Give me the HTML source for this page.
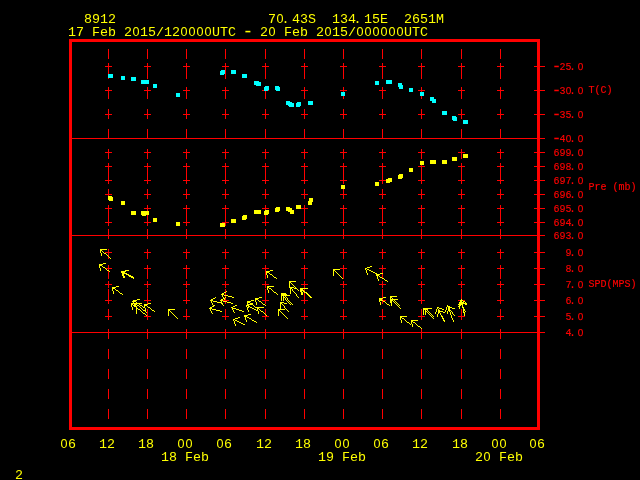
<!DOCTYPE html>
<html><head><meta charset="utf-8"><title>Meteogram 8912</title>
<style>
html,body{margin:0;padding:0;background:#000;overflow:hidden}
svg{display:block}
text{font-family:"Liberation Mono",monospace;white-space:pre;text-anchor:middle}
.by{font-size:13.333px;fill:#ffff00}
.sr{font-size:10px;fill:#ff0000;stroke:#ff0000;stroke-width:0.15px}
.z{font-family:"Liberation Sans",sans-serif}
.by .z{font-size:12.6px}
.by .d{font-size:18px}
.sr .d{font-size:16px}
.sr .z{font-size:10.0px;text-rendering:geometricPrecision}
</style></head><body>
<svg width="640" height="480" viewBox="0 0 640 480" shape-rendering="crispEdges">
<rect width="640" height="480" fill="#000"/>
<g fill="#ff0000">
<rect x="69" y="39" width="471" height="3"/>
<rect x="69" y="427" width="471" height="3"/>
<rect x="69" y="39" width="3" height="391"/>
<rect x="537" y="39" width="3" height="391"/>
<rect x="72" y="138" width="465" height="1"/>
<rect x="72" y="235" width="465" height="1"/>
<rect x="72" y="332" width="465" height="1"/>
<rect x="108" y="49" width="1" height="10"/>
<rect x="108" y="69" width="1" height="10"/>
<rect x="108" y="89" width="1" height="10"/>
<rect x="108" y="109" width="1" height="10"/>
<rect x="108" y="129" width="1" height="10"/>
<rect x="108" y="149" width="1" height="10"/>
<rect x="108" y="169" width="1" height="10"/>
<rect x="108" y="189" width="1" height="10"/>
<rect x="108" y="209" width="1" height="10"/>
<rect x="108" y="229" width="1" height="10"/>
<rect x="108" y="249" width="1" height="10"/>
<rect x="108" y="269" width="1" height="10"/>
<rect x="108" y="289" width="1" height="10"/>
<rect x="108" y="309" width="1" height="10"/>
<rect x="108" y="329" width="1" height="10"/>
<rect x="108" y="349" width="1" height="10"/>
<rect x="108" y="369" width="1" height="10"/>
<rect x="108" y="389" width="1" height="10"/>
<rect x="108" y="409" width="1" height="10"/>
<rect x="105" y="66" width="7" height="1"/>
<rect x="108" y="63" width="1" height="7"/>
<rect x="105" y="90" width="7" height="1"/>
<rect x="108" y="87" width="1" height="7"/>
<rect x="105" y="114" width="7" height="1"/>
<rect x="108" y="111" width="1" height="7"/>
<rect x="105" y="152" width="7" height="1"/>
<rect x="108" y="149" width="1" height="7"/>
<rect x="105" y="166" width="7" height="1"/>
<rect x="108" y="163" width="1" height="7"/>
<rect x="105" y="180" width="7" height="1"/>
<rect x="108" y="177" width="1" height="7"/>
<rect x="105" y="194" width="7" height="1"/>
<rect x="108" y="191" width="1" height="7"/>
<rect x="105" y="208" width="7" height="1"/>
<rect x="108" y="205" width="1" height="7"/>
<rect x="105" y="222" width="7" height="1"/>
<rect x="108" y="219" width="1" height="7"/>
<rect x="105" y="252" width="7" height="1"/>
<rect x="108" y="249" width="1" height="7"/>
<rect x="105" y="268" width="7" height="1"/>
<rect x="108" y="265" width="1" height="7"/>
<rect x="105" y="284" width="7" height="1"/>
<rect x="108" y="281" width="1" height="7"/>
<rect x="105" y="300" width="7" height="1"/>
<rect x="108" y="297" width="1" height="7"/>
<rect x="105" y="316" width="7" height="1"/>
<rect x="108" y="313" width="1" height="7"/>
<rect x="147" y="49" width="1" height="10"/>
<rect x="147" y="69" width="1" height="10"/>
<rect x="147" y="89" width="1" height="10"/>
<rect x="147" y="109" width="1" height="10"/>
<rect x="147" y="129" width="1" height="10"/>
<rect x="147" y="149" width="1" height="10"/>
<rect x="147" y="169" width="1" height="10"/>
<rect x="147" y="189" width="1" height="10"/>
<rect x="147" y="209" width="1" height="10"/>
<rect x="147" y="229" width="1" height="10"/>
<rect x="147" y="249" width="1" height="10"/>
<rect x="147" y="269" width="1" height="10"/>
<rect x="147" y="289" width="1" height="10"/>
<rect x="147" y="309" width="1" height="10"/>
<rect x="147" y="329" width="1" height="10"/>
<rect x="147" y="349" width="1" height="10"/>
<rect x="147" y="369" width="1" height="10"/>
<rect x="147" y="389" width="1" height="10"/>
<rect x="147" y="409" width="1" height="10"/>
<rect x="144" y="66" width="7" height="1"/>
<rect x="147" y="63" width="1" height="7"/>
<rect x="144" y="90" width="7" height="1"/>
<rect x="147" y="87" width="1" height="7"/>
<rect x="144" y="114" width="7" height="1"/>
<rect x="147" y="111" width="1" height="7"/>
<rect x="144" y="152" width="7" height="1"/>
<rect x="147" y="149" width="1" height="7"/>
<rect x="144" y="166" width="7" height="1"/>
<rect x="147" y="163" width="1" height="7"/>
<rect x="144" y="180" width="7" height="1"/>
<rect x="147" y="177" width="1" height="7"/>
<rect x="144" y="194" width="7" height="1"/>
<rect x="147" y="191" width="1" height="7"/>
<rect x="144" y="208" width="7" height="1"/>
<rect x="147" y="205" width="1" height="7"/>
<rect x="144" y="222" width="7" height="1"/>
<rect x="147" y="219" width="1" height="7"/>
<rect x="144" y="252" width="7" height="1"/>
<rect x="147" y="249" width="1" height="7"/>
<rect x="144" y="268" width="7" height="1"/>
<rect x="147" y="265" width="1" height="7"/>
<rect x="144" y="284" width="7" height="1"/>
<rect x="147" y="281" width="1" height="7"/>
<rect x="144" y="300" width="7" height="1"/>
<rect x="147" y="297" width="1" height="7"/>
<rect x="144" y="316" width="7" height="1"/>
<rect x="147" y="313" width="1" height="7"/>
<rect x="186" y="49" width="1" height="10"/>
<rect x="186" y="69" width="1" height="10"/>
<rect x="186" y="89" width="1" height="10"/>
<rect x="186" y="109" width="1" height="10"/>
<rect x="186" y="129" width="1" height="10"/>
<rect x="186" y="149" width="1" height="10"/>
<rect x="186" y="169" width="1" height="10"/>
<rect x="186" y="189" width="1" height="10"/>
<rect x="186" y="209" width="1" height="10"/>
<rect x="186" y="229" width="1" height="10"/>
<rect x="186" y="249" width="1" height="10"/>
<rect x="186" y="269" width="1" height="10"/>
<rect x="186" y="289" width="1" height="10"/>
<rect x="186" y="309" width="1" height="10"/>
<rect x="186" y="329" width="1" height="10"/>
<rect x="186" y="349" width="1" height="10"/>
<rect x="186" y="369" width="1" height="10"/>
<rect x="186" y="389" width="1" height="10"/>
<rect x="186" y="409" width="1" height="10"/>
<rect x="183" y="66" width="7" height="1"/>
<rect x="186" y="63" width="1" height="7"/>
<rect x="183" y="90" width="7" height="1"/>
<rect x="186" y="87" width="1" height="7"/>
<rect x="183" y="114" width="7" height="1"/>
<rect x="186" y="111" width="1" height="7"/>
<rect x="183" y="152" width="7" height="1"/>
<rect x="186" y="149" width="1" height="7"/>
<rect x="183" y="166" width="7" height="1"/>
<rect x="186" y="163" width="1" height="7"/>
<rect x="183" y="180" width="7" height="1"/>
<rect x="186" y="177" width="1" height="7"/>
<rect x="183" y="194" width="7" height="1"/>
<rect x="186" y="191" width="1" height="7"/>
<rect x="183" y="208" width="7" height="1"/>
<rect x="186" y="205" width="1" height="7"/>
<rect x="183" y="222" width="7" height="1"/>
<rect x="186" y="219" width="1" height="7"/>
<rect x="183" y="252" width="7" height="1"/>
<rect x="186" y="249" width="1" height="7"/>
<rect x="183" y="268" width="7" height="1"/>
<rect x="186" y="265" width="1" height="7"/>
<rect x="183" y="284" width="7" height="1"/>
<rect x="186" y="281" width="1" height="7"/>
<rect x="183" y="300" width="7" height="1"/>
<rect x="186" y="297" width="1" height="7"/>
<rect x="183" y="316" width="7" height="1"/>
<rect x="186" y="313" width="1" height="7"/>
<rect x="225" y="49" width="1" height="10"/>
<rect x="225" y="69" width="1" height="10"/>
<rect x="225" y="89" width="1" height="10"/>
<rect x="225" y="109" width="1" height="10"/>
<rect x="225" y="129" width="1" height="10"/>
<rect x="225" y="149" width="1" height="10"/>
<rect x="225" y="169" width="1" height="10"/>
<rect x="225" y="189" width="1" height="10"/>
<rect x="225" y="209" width="1" height="10"/>
<rect x="225" y="229" width="1" height="10"/>
<rect x="225" y="249" width="1" height="10"/>
<rect x="225" y="269" width="1" height="10"/>
<rect x="225" y="289" width="1" height="10"/>
<rect x="225" y="309" width="1" height="10"/>
<rect x="225" y="329" width="1" height="10"/>
<rect x="225" y="349" width="1" height="10"/>
<rect x="225" y="369" width="1" height="10"/>
<rect x="225" y="389" width="1" height="10"/>
<rect x="225" y="409" width="1" height="10"/>
<rect x="222" y="66" width="7" height="1"/>
<rect x="225" y="63" width="1" height="7"/>
<rect x="222" y="90" width="7" height="1"/>
<rect x="225" y="87" width="1" height="7"/>
<rect x="222" y="114" width="7" height="1"/>
<rect x="225" y="111" width="1" height="7"/>
<rect x="222" y="152" width="7" height="1"/>
<rect x="225" y="149" width="1" height="7"/>
<rect x="222" y="166" width="7" height="1"/>
<rect x="225" y="163" width="1" height="7"/>
<rect x="222" y="180" width="7" height="1"/>
<rect x="225" y="177" width="1" height="7"/>
<rect x="222" y="194" width="7" height="1"/>
<rect x="225" y="191" width="1" height="7"/>
<rect x="222" y="208" width="7" height="1"/>
<rect x="225" y="205" width="1" height="7"/>
<rect x="222" y="222" width="7" height="1"/>
<rect x="225" y="219" width="1" height="7"/>
<rect x="222" y="252" width="7" height="1"/>
<rect x="225" y="249" width="1" height="7"/>
<rect x="222" y="268" width="7" height="1"/>
<rect x="225" y="265" width="1" height="7"/>
<rect x="222" y="284" width="7" height="1"/>
<rect x="225" y="281" width="1" height="7"/>
<rect x="222" y="300" width="7" height="1"/>
<rect x="225" y="297" width="1" height="7"/>
<rect x="222" y="316" width="7" height="1"/>
<rect x="225" y="313" width="1" height="7"/>
<rect x="265" y="49" width="1" height="10"/>
<rect x="265" y="69" width="1" height="10"/>
<rect x="265" y="89" width="1" height="10"/>
<rect x="265" y="109" width="1" height="10"/>
<rect x="265" y="129" width="1" height="10"/>
<rect x="265" y="149" width="1" height="10"/>
<rect x="265" y="169" width="1" height="10"/>
<rect x="265" y="189" width="1" height="10"/>
<rect x="265" y="209" width="1" height="10"/>
<rect x="265" y="229" width="1" height="10"/>
<rect x="265" y="249" width="1" height="10"/>
<rect x="265" y="269" width="1" height="10"/>
<rect x="265" y="289" width="1" height="10"/>
<rect x="265" y="309" width="1" height="10"/>
<rect x="265" y="329" width="1" height="10"/>
<rect x="265" y="349" width="1" height="10"/>
<rect x="265" y="369" width="1" height="10"/>
<rect x="265" y="389" width="1" height="10"/>
<rect x="265" y="409" width="1" height="10"/>
<rect x="262" y="66" width="7" height="1"/>
<rect x="265" y="63" width="1" height="7"/>
<rect x="262" y="90" width="7" height="1"/>
<rect x="265" y="87" width="1" height="7"/>
<rect x="262" y="114" width="7" height="1"/>
<rect x="265" y="111" width="1" height="7"/>
<rect x="262" y="152" width="7" height="1"/>
<rect x="265" y="149" width="1" height="7"/>
<rect x="262" y="166" width="7" height="1"/>
<rect x="265" y="163" width="1" height="7"/>
<rect x="262" y="180" width="7" height="1"/>
<rect x="265" y="177" width="1" height="7"/>
<rect x="262" y="194" width="7" height="1"/>
<rect x="265" y="191" width="1" height="7"/>
<rect x="262" y="208" width="7" height="1"/>
<rect x="265" y="205" width="1" height="7"/>
<rect x="262" y="222" width="7" height="1"/>
<rect x="265" y="219" width="1" height="7"/>
<rect x="262" y="252" width="7" height="1"/>
<rect x="265" y="249" width="1" height="7"/>
<rect x="262" y="268" width="7" height="1"/>
<rect x="265" y="265" width="1" height="7"/>
<rect x="262" y="284" width="7" height="1"/>
<rect x="265" y="281" width="1" height="7"/>
<rect x="262" y="300" width="7" height="1"/>
<rect x="265" y="297" width="1" height="7"/>
<rect x="262" y="316" width="7" height="1"/>
<rect x="265" y="313" width="1" height="7"/>
<rect x="304" y="49" width="1" height="10"/>
<rect x="304" y="69" width="1" height="10"/>
<rect x="304" y="89" width="1" height="10"/>
<rect x="304" y="109" width="1" height="10"/>
<rect x="304" y="129" width="1" height="10"/>
<rect x="304" y="149" width="1" height="10"/>
<rect x="304" y="169" width="1" height="10"/>
<rect x="304" y="189" width="1" height="10"/>
<rect x="304" y="209" width="1" height="10"/>
<rect x="304" y="229" width="1" height="10"/>
<rect x="304" y="249" width="1" height="10"/>
<rect x="304" y="269" width="1" height="10"/>
<rect x="304" y="289" width="1" height="10"/>
<rect x="304" y="309" width="1" height="10"/>
<rect x="304" y="329" width="1" height="10"/>
<rect x="304" y="349" width="1" height="10"/>
<rect x="304" y="369" width="1" height="10"/>
<rect x="304" y="389" width="1" height="10"/>
<rect x="304" y="409" width="1" height="10"/>
<rect x="301" y="66" width="7" height="1"/>
<rect x="304" y="63" width="1" height="7"/>
<rect x="301" y="90" width="7" height="1"/>
<rect x="304" y="87" width="1" height="7"/>
<rect x="301" y="114" width="7" height="1"/>
<rect x="304" y="111" width="1" height="7"/>
<rect x="301" y="152" width="7" height="1"/>
<rect x="304" y="149" width="1" height="7"/>
<rect x="301" y="166" width="7" height="1"/>
<rect x="304" y="163" width="1" height="7"/>
<rect x="301" y="180" width="7" height="1"/>
<rect x="304" y="177" width="1" height="7"/>
<rect x="301" y="194" width="7" height="1"/>
<rect x="304" y="191" width="1" height="7"/>
<rect x="301" y="208" width="7" height="1"/>
<rect x="304" y="205" width="1" height="7"/>
<rect x="301" y="222" width="7" height="1"/>
<rect x="304" y="219" width="1" height="7"/>
<rect x="301" y="252" width="7" height="1"/>
<rect x="304" y="249" width="1" height="7"/>
<rect x="301" y="268" width="7" height="1"/>
<rect x="304" y="265" width="1" height="7"/>
<rect x="301" y="284" width="7" height="1"/>
<rect x="304" y="281" width="1" height="7"/>
<rect x="301" y="300" width="7" height="1"/>
<rect x="304" y="297" width="1" height="7"/>
<rect x="301" y="316" width="7" height="1"/>
<rect x="304" y="313" width="1" height="7"/>
<rect x="343" y="49" width="1" height="10"/>
<rect x="343" y="69" width="1" height="10"/>
<rect x="343" y="89" width="1" height="10"/>
<rect x="343" y="109" width="1" height="10"/>
<rect x="343" y="129" width="1" height="10"/>
<rect x="343" y="149" width="1" height="10"/>
<rect x="343" y="169" width="1" height="10"/>
<rect x="343" y="189" width="1" height="10"/>
<rect x="343" y="209" width="1" height="10"/>
<rect x="343" y="229" width="1" height="10"/>
<rect x="343" y="249" width="1" height="10"/>
<rect x="343" y="269" width="1" height="10"/>
<rect x="343" y="289" width="1" height="10"/>
<rect x="343" y="309" width="1" height="10"/>
<rect x="343" y="329" width="1" height="10"/>
<rect x="343" y="349" width="1" height="10"/>
<rect x="343" y="369" width="1" height="10"/>
<rect x="343" y="389" width="1" height="10"/>
<rect x="343" y="409" width="1" height="10"/>
<rect x="340" y="66" width="7" height="1"/>
<rect x="343" y="63" width="1" height="7"/>
<rect x="340" y="90" width="7" height="1"/>
<rect x="343" y="87" width="1" height="7"/>
<rect x="340" y="114" width="7" height="1"/>
<rect x="343" y="111" width="1" height="7"/>
<rect x="340" y="152" width="7" height="1"/>
<rect x="343" y="149" width="1" height="7"/>
<rect x="340" y="166" width="7" height="1"/>
<rect x="343" y="163" width="1" height="7"/>
<rect x="340" y="180" width="7" height="1"/>
<rect x="343" y="177" width="1" height="7"/>
<rect x="340" y="194" width="7" height="1"/>
<rect x="343" y="191" width="1" height="7"/>
<rect x="340" y="208" width="7" height="1"/>
<rect x="343" y="205" width="1" height="7"/>
<rect x="340" y="222" width="7" height="1"/>
<rect x="343" y="219" width="1" height="7"/>
<rect x="340" y="252" width="7" height="1"/>
<rect x="343" y="249" width="1" height="7"/>
<rect x="340" y="268" width="7" height="1"/>
<rect x="343" y="265" width="1" height="7"/>
<rect x="340" y="284" width="7" height="1"/>
<rect x="343" y="281" width="1" height="7"/>
<rect x="340" y="300" width="7" height="1"/>
<rect x="343" y="297" width="1" height="7"/>
<rect x="340" y="316" width="7" height="1"/>
<rect x="343" y="313" width="1" height="7"/>
<rect x="382" y="49" width="1" height="10"/>
<rect x="382" y="69" width="1" height="10"/>
<rect x="382" y="89" width="1" height="10"/>
<rect x="382" y="109" width="1" height="10"/>
<rect x="382" y="129" width="1" height="10"/>
<rect x="382" y="149" width="1" height="10"/>
<rect x="382" y="169" width="1" height="10"/>
<rect x="382" y="189" width="1" height="10"/>
<rect x="382" y="209" width="1" height="10"/>
<rect x="382" y="229" width="1" height="10"/>
<rect x="382" y="249" width="1" height="10"/>
<rect x="382" y="269" width="1" height="10"/>
<rect x="382" y="289" width="1" height="10"/>
<rect x="382" y="309" width="1" height="10"/>
<rect x="382" y="329" width="1" height="10"/>
<rect x="382" y="349" width="1" height="10"/>
<rect x="382" y="369" width="1" height="10"/>
<rect x="382" y="389" width="1" height="10"/>
<rect x="382" y="409" width="1" height="10"/>
<rect x="379" y="66" width="7" height="1"/>
<rect x="382" y="63" width="1" height="7"/>
<rect x="379" y="90" width="7" height="1"/>
<rect x="382" y="87" width="1" height="7"/>
<rect x="379" y="114" width="7" height="1"/>
<rect x="382" y="111" width="1" height="7"/>
<rect x="379" y="152" width="7" height="1"/>
<rect x="382" y="149" width="1" height="7"/>
<rect x="379" y="166" width="7" height="1"/>
<rect x="382" y="163" width="1" height="7"/>
<rect x="379" y="180" width="7" height="1"/>
<rect x="382" y="177" width="1" height="7"/>
<rect x="379" y="194" width="7" height="1"/>
<rect x="382" y="191" width="1" height="7"/>
<rect x="379" y="208" width="7" height="1"/>
<rect x="382" y="205" width="1" height="7"/>
<rect x="379" y="222" width="7" height="1"/>
<rect x="382" y="219" width="1" height="7"/>
<rect x="379" y="252" width="7" height="1"/>
<rect x="382" y="249" width="1" height="7"/>
<rect x="379" y="268" width="7" height="1"/>
<rect x="382" y="265" width="1" height="7"/>
<rect x="379" y="284" width="7" height="1"/>
<rect x="382" y="281" width="1" height="7"/>
<rect x="379" y="300" width="7" height="1"/>
<rect x="382" y="297" width="1" height="7"/>
<rect x="379" y="316" width="7" height="1"/>
<rect x="382" y="313" width="1" height="7"/>
<rect x="421" y="49" width="1" height="10"/>
<rect x="421" y="69" width="1" height="10"/>
<rect x="421" y="89" width="1" height="10"/>
<rect x="421" y="109" width="1" height="10"/>
<rect x="421" y="129" width="1" height="10"/>
<rect x="421" y="149" width="1" height="10"/>
<rect x="421" y="169" width="1" height="10"/>
<rect x="421" y="189" width="1" height="10"/>
<rect x="421" y="209" width="1" height="10"/>
<rect x="421" y="229" width="1" height="10"/>
<rect x="421" y="249" width="1" height="10"/>
<rect x="421" y="269" width="1" height="10"/>
<rect x="421" y="289" width="1" height="10"/>
<rect x="421" y="309" width="1" height="10"/>
<rect x="421" y="329" width="1" height="10"/>
<rect x="421" y="349" width="1" height="10"/>
<rect x="421" y="369" width="1" height="10"/>
<rect x="421" y="389" width="1" height="10"/>
<rect x="421" y="409" width="1" height="10"/>
<rect x="418" y="66" width="7" height="1"/>
<rect x="421" y="63" width="1" height="7"/>
<rect x="418" y="90" width="7" height="1"/>
<rect x="421" y="87" width="1" height="7"/>
<rect x="418" y="114" width="7" height="1"/>
<rect x="421" y="111" width="1" height="7"/>
<rect x="418" y="152" width="7" height="1"/>
<rect x="421" y="149" width="1" height="7"/>
<rect x="418" y="166" width="7" height="1"/>
<rect x="421" y="163" width="1" height="7"/>
<rect x="418" y="180" width="7" height="1"/>
<rect x="421" y="177" width="1" height="7"/>
<rect x="418" y="194" width="7" height="1"/>
<rect x="421" y="191" width="1" height="7"/>
<rect x="418" y="208" width="7" height="1"/>
<rect x="421" y="205" width="1" height="7"/>
<rect x="418" y="222" width="7" height="1"/>
<rect x="421" y="219" width="1" height="7"/>
<rect x="418" y="252" width="7" height="1"/>
<rect x="421" y="249" width="1" height="7"/>
<rect x="418" y="268" width="7" height="1"/>
<rect x="421" y="265" width="1" height="7"/>
<rect x="418" y="284" width="7" height="1"/>
<rect x="421" y="281" width="1" height="7"/>
<rect x="418" y="300" width="7" height="1"/>
<rect x="421" y="297" width="1" height="7"/>
<rect x="418" y="316" width="7" height="1"/>
<rect x="421" y="313" width="1" height="7"/>
<rect x="461" y="49" width="1" height="10"/>
<rect x="461" y="69" width="1" height="10"/>
<rect x="461" y="89" width="1" height="10"/>
<rect x="461" y="109" width="1" height="10"/>
<rect x="461" y="129" width="1" height="10"/>
<rect x="461" y="149" width="1" height="10"/>
<rect x="461" y="169" width="1" height="10"/>
<rect x="461" y="189" width="1" height="10"/>
<rect x="461" y="209" width="1" height="10"/>
<rect x="461" y="229" width="1" height="10"/>
<rect x="461" y="249" width="1" height="10"/>
<rect x="461" y="269" width="1" height="10"/>
<rect x="461" y="289" width="1" height="10"/>
<rect x="461" y="309" width="1" height="10"/>
<rect x="461" y="329" width="1" height="10"/>
<rect x="461" y="349" width="1" height="10"/>
<rect x="461" y="369" width="1" height="10"/>
<rect x="461" y="389" width="1" height="10"/>
<rect x="461" y="409" width="1" height="10"/>
<rect x="458" y="66" width="7" height="1"/>
<rect x="461" y="63" width="1" height="7"/>
<rect x="458" y="90" width="7" height="1"/>
<rect x="461" y="87" width="1" height="7"/>
<rect x="458" y="114" width="7" height="1"/>
<rect x="461" y="111" width="1" height="7"/>
<rect x="458" y="152" width="7" height="1"/>
<rect x="461" y="149" width="1" height="7"/>
<rect x="458" y="166" width="7" height="1"/>
<rect x="461" y="163" width="1" height="7"/>
<rect x="458" y="180" width="7" height="1"/>
<rect x="461" y="177" width="1" height="7"/>
<rect x="458" y="194" width="7" height="1"/>
<rect x="461" y="191" width="1" height="7"/>
<rect x="458" y="208" width="7" height="1"/>
<rect x="461" y="205" width="1" height="7"/>
<rect x="458" y="222" width="7" height="1"/>
<rect x="461" y="219" width="1" height="7"/>
<rect x="458" y="252" width="7" height="1"/>
<rect x="461" y="249" width="1" height="7"/>
<rect x="458" y="268" width="7" height="1"/>
<rect x="461" y="265" width="1" height="7"/>
<rect x="458" y="284" width="7" height="1"/>
<rect x="461" y="281" width="1" height="7"/>
<rect x="458" y="300" width="7" height="1"/>
<rect x="461" y="297" width="1" height="7"/>
<rect x="458" y="316" width="7" height="1"/>
<rect x="461" y="313" width="1" height="7"/>
<rect x="500" y="49" width="1" height="10"/>
<rect x="500" y="69" width="1" height="10"/>
<rect x="500" y="89" width="1" height="10"/>
<rect x="500" y="109" width="1" height="10"/>
<rect x="500" y="129" width="1" height="10"/>
<rect x="500" y="149" width="1" height="10"/>
<rect x="500" y="169" width="1" height="10"/>
<rect x="500" y="189" width="1" height="10"/>
<rect x="500" y="209" width="1" height="10"/>
<rect x="500" y="229" width="1" height="10"/>
<rect x="500" y="249" width="1" height="10"/>
<rect x="500" y="269" width="1" height="10"/>
<rect x="500" y="289" width="1" height="10"/>
<rect x="500" y="309" width="1" height="10"/>
<rect x="500" y="329" width="1" height="10"/>
<rect x="500" y="349" width="1" height="10"/>
<rect x="500" y="369" width="1" height="10"/>
<rect x="500" y="389" width="1" height="10"/>
<rect x="500" y="409" width="1" height="10"/>
<rect x="497" y="66" width="7" height="1"/>
<rect x="500" y="63" width="1" height="7"/>
<rect x="497" y="90" width="7" height="1"/>
<rect x="500" y="87" width="1" height="7"/>
<rect x="497" y="114" width="7" height="1"/>
<rect x="500" y="111" width="1" height="7"/>
<rect x="497" y="152" width="7" height="1"/>
<rect x="500" y="149" width="1" height="7"/>
<rect x="497" y="166" width="7" height="1"/>
<rect x="500" y="163" width="1" height="7"/>
<rect x="497" y="180" width="7" height="1"/>
<rect x="500" y="177" width="1" height="7"/>
<rect x="497" y="194" width="7" height="1"/>
<rect x="500" y="191" width="1" height="7"/>
<rect x="497" y="208" width="7" height="1"/>
<rect x="500" y="205" width="1" height="7"/>
<rect x="497" y="222" width="7" height="1"/>
<rect x="500" y="219" width="1" height="7"/>
<rect x="497" y="252" width="7" height="1"/>
<rect x="500" y="249" width="1" height="7"/>
<rect x="497" y="268" width="7" height="1"/>
<rect x="500" y="265" width="1" height="7"/>
<rect x="497" y="284" width="7" height="1"/>
<rect x="500" y="281" width="1" height="7"/>
<rect x="497" y="300" width="7" height="1"/>
<rect x="500" y="297" width="1" height="7"/>
<rect x="497" y="316" width="7" height="1"/>
<rect x="500" y="313" width="1" height="7"/>
<rect x="534" y="66" width="11" height="1"/>
<rect x="534" y="90" width="11" height="1"/>
<rect x="534" y="114" width="11" height="1"/>
<rect x="534" y="152" width="11" height="1"/>
<rect x="534" y="166" width="11" height="1"/>
<rect x="534" y="180" width="11" height="1"/>
<rect x="534" y="194" width="11" height="1"/>
<rect x="534" y="208" width="11" height="1"/>
<rect x="534" y="222" width="11" height="1"/>
<rect x="534" y="252" width="11" height="1"/>
<rect x="534" y="268" width="11" height="1"/>
<rect x="534" y="284" width="11" height="1"/>
<rect x="534" y="300" width="11" height="1"/>
<rect x="534" y="316" width="11" height="1"/>
<rect x="534" y="138" width="11" height="1"/>
<rect x="534" y="235" width="11" height="1"/>
<rect x="534" y="332" width="11" height="1"/>
</g>
<g fill="#00ffff">
<rect x="108" y="74" width="5" height="4"/>
<rect x="121" y="76" width="4" height="4"/>
<rect x="131" y="77" width="5" height="4"/>
<rect x="141" y="80" width="8" height="4"/>
<rect x="153" y="84" width="4" height="4"/>
<rect x="176" y="93" width="4" height="4"/>
<rect x="221" y="70" width="4" height="4"/>
<rect x="220" y="71" width="4" height="4"/>
<rect x="231" y="70" width="5" height="4"/>
<rect x="242" y="74" width="5" height="4"/>
<rect x="254" y="81" width="5" height="4"/>
<rect x="256" y="82" width="5" height="4"/>
<rect x="265" y="86" width="4" height="4"/>
<rect x="264" y="87" width="4" height="4"/>
<rect x="275" y="86" width="4" height="4"/>
<rect x="276" y="87" width="4" height="4"/>
<rect x="286" y="101" width="4" height="4"/>
<rect x="288" y="102" width="4" height="4"/>
<rect x="289" y="103" width="5" height="4"/>
<rect x="297" y="102" width="4" height="4"/>
<rect x="296" y="103" width="4" height="4"/>
<rect x="308" y="101" width="5" height="4"/>
<rect x="341" y="92" width="4" height="4"/>
<rect x="375" y="81" width="4" height="4"/>
<rect x="386" y="80" width="6" height="4"/>
<rect x="398" y="83" width="4" height="4"/>
<rect x="399" y="85" width="4" height="4"/>
<rect x="409" y="88" width="4" height="4"/>
<rect x="420" y="92" width="4" height="4"/>
<rect x="430" y="97" width="4" height="4"/>
<rect x="432" y="99" width="4" height="4"/>
<rect x="442" y="111" width="5" height="4"/>
<rect x="452" y="116" width="4" height="4"/>
<rect x="453" y="117" width="4" height="4"/>
<rect x="463" y="120" width="5" height="4"/>
</g>
<g fill="#ffff00">
<rect x="108" y="196" width="4" height="4"/>
<rect x="109" y="197" width="4" height="4"/>
<rect x="121" y="201" width="4" height="4"/>
<rect x="131" y="211" width="5" height="4"/>
<rect x="141" y="211" width="8" height="4"/>
<rect x="142" y="212" width="4" height="4"/>
<rect x="153" y="218" width="4" height="4"/>
<rect x="176" y="222" width="4" height="4"/>
<rect x="220" y="223" width="5" height="4"/>
<rect x="231" y="219" width="5" height="4"/>
<rect x="243" y="215" width="4" height="4"/>
<rect x="242" y="216" width="4" height="4"/>
<rect x="254" y="210" width="7" height="4"/>
<rect x="265" y="210" width="4" height="4"/>
<rect x="264" y="211" width="4" height="4"/>
<rect x="276" y="207" width="4" height="4"/>
<rect x="275" y="208" width="4" height="4"/>
<rect x="286" y="207" width="4" height="4"/>
<rect x="288" y="208" width="4" height="4"/>
<rect x="290" y="210" width="4" height="4"/>
<rect x="296" y="205" width="5" height="4"/>
<rect x="309" y="198" width="4" height="4"/>
<rect x="308" y="201" width="4" height="4"/>
<rect x="341" y="185" width="4" height="4"/>
<rect x="375" y="182" width="4" height="4"/>
<rect x="388" y="178" width="4" height="4"/>
<rect x="386" y="179" width="4" height="4"/>
<rect x="399" y="174" width="4" height="4"/>
<rect x="398" y="175" width="4" height="4"/>
<rect x="409" y="168" width="4" height="4"/>
<rect x="420" y="161" width="4" height="4"/>
<rect x="430" y="160" width="6" height="4"/>
<rect x="442" y="160" width="5" height="4"/>
<rect x="452" y="157" width="5" height="4"/>
<rect x="463" y="154" width="5" height="4"/>
</g>
<path d="M100 249h7v1h-7zM100 250h2v1h-2zM100 251h1v1h-1zM102 251h1v1h-1zM100 252h1v1h-1zM103 252h1v1h-1zM101 253h1v1h-1zM104 253h2v1h-2zM101 254h1v1h-1zM106 254h1v1h-1zM101 255h1v1h-1zM107 255h1v1h-1zM108 256h1v1h-1zM109 257h1v1h-1zM110 258h1v1h-1zM103 263h3v1h-3zM99 264h4v1h-4zM99 265h3v1h-3zM99 266h1v1h-1zM102 266h1v1h-1zM370 266h2v1h-2zM99 267h1v1h-1zM103 267h2v1h-2zM367 267h3v1h-3zM100 268h1v1h-1zM105 268h1v1h-1zM365 268h2v1h-2zM100 269h1v1h-1zM106 269h1v1h-1zM333 269h7v1h-7zM365 269h1v1h-1zM367 269h2v1h-2zM100 270h1v1h-1zM107 270h2v1h-2zM125 270h4v1h-4zM270 270h3v1h-3zM333 270h2v1h-2zM366 270h1v1h-1zM369 270h2v1h-2zM109 271h1v1h-1zM121 271h5v1h-5zM266 271h4v1h-4zM333 271h1v1h-1zM335 271h1v1h-1zM366 271h1v1h-1zM371 271h2v1h-2zM121 272h4v1h-4zM266 272h3v1h-3zM333 272h1v1h-1zM336 272h1v1h-1zM366 272h1v1h-1zM373 272h2v1h-2zM122 273h5v1h-5zM266 273h1v1h-1zM269 273h1v1h-1zM333 273h1v1h-1zM337 273h1v1h-1zM367 273h1v1h-1zM375 273h2v1h-2zM380 273h3v1h-3zM122 274h2v1h-2zM126 274h3v1h-3zM266 274h1v1h-1zM270 274h2v1h-2zM333 274h1v1h-1zM338 274h1v1h-1zM367 274h1v1h-1zM376 274h4v1h-4zM122 275h2v1h-2zM128 275h3v1h-3zM267 275h1v1h-1zM272 275h1v1h-1zM333 275h1v1h-1zM339 275h1v1h-1zM376 275h3v1h-3zM123 276h2v1h-2zM129 276h4v1h-4zM267 276h1v1h-1zM273 276h1v1h-1zM340 276h1v1h-1zM377 276h1v1h-1zM379 276h1v1h-1zM123 277h2v1h-2zM131 277h3v1h-3zM267 277h1v1h-1zM274 277h2v1h-2zM341 277h1v1h-1zM377 277h1v1h-1zM380 277h2v1h-2zM133 278h1v1h-1zM276 278h1v1h-1zM342 278h1v1h-1zM377 278h1v1h-1zM382 278h2v1h-2zM378 279h1v1h-1zM384 279h1v1h-1zM378 280h1v1h-1zM385 280h2v1h-2zM289 281h7v1h-7zM387 281h1v1h-1zM289 282h2v1h-2zM289 283h1v1h-1zM291 283h1v1h-1zM289 284h1v1h-1zM292 284h1v1h-1zM289 285h1v1h-1zM293 285h1v1h-1zM116 286h3v1h-3zM267 286h7v1h-7zM289 286h1v1h-1zM294 286h1v1h-1zM112 287h4v1h-4zM267 287h2v1h-2zM289 287h5v1h-5zM295 287h1v1h-1zM112 288h3v1h-3zM267 288h1v1h-1zM269 288h2v1h-2zM290 288h2v1h-2zM294 288h3v1h-3zM300 288h8v1h-8zM112 289h1v1h-1zM115 289h1v1h-1zM267 289h1v1h-1zM271 289h1v1h-1zM290 289h1v1h-1zM292 289h1v1h-1zM297 289h1v1h-1zM300 289h3v1h-3zM112 290h1v1h-1zM116 290h2v1h-2zM268 290h1v1h-1zM272 290h1v1h-1zM290 290h1v1h-1zM292 290h1v1h-1zM298 290h1v1h-1zM300 290h4v1h-4zM113 291h1v1h-1zM118 291h1v1h-1zM226 291h1v1h-1zM268 291h1v1h-1zM273 291h1v1h-1zM290 291h1v1h-1zM293 291h1v1h-1zM300 291h2v1h-2zM303 291h2v1h-2zM113 292h1v1h-1zM119 292h1v1h-1zM224 292h2v1h-2zM268 292h1v1h-1zM274 292h2v1h-2zM290 292h1v1h-1zM294 292h1v1h-1zM301 292h2v1h-2zM304 292h3v1h-3zM113 293h1v1h-1zM120 293h2v1h-2zM222 293h2v1h-2zM276 293h1v1h-1zM281 293h5v1h-5zM290 293h1v1h-1zM295 293h1v1h-1zM301 293h2v1h-2zM306 293h2v1h-2zM122 294h1v1h-1zM221 294h3v1h-3zM277 294h1v1h-1zM281 294h6v1h-6zM296 294h1v1h-1zM301 294h2v1h-2zM307 294h2v1h-2zM222 295h1v1h-1zM224 295h4v1h-4zM281 295h9v1h-9zM296 295h1v1h-1zM308 295h2v1h-2zM222 296h1v1h-1zM228 296h4v1h-4zM281 296h1v1h-1zM283 296h1v1h-1zM285 296h1v1h-1zM297 296h1v1h-1zM309 296h2v1h-2zM390 296h7v1h-7zM215 297h1v1h-1zM223 297h1v1h-1zM225 297h1v1h-1zM232 297h2v1h-2zM259 297h3v1h-3zM281 297h1v1h-1zM283 297h2v1h-2zM286 297h1v1h-1zM298 297h1v1h-1zM310 297h2v1h-2zM383 297h3v1h-3zM390 297h2v1h-2zM213 298h2v1h-2zM223 298h2v1h-2zM255 298h4v1h-4zM281 298h1v1h-1zM283 298h1v1h-1zM285 298h1v1h-1zM287 298h1v1h-1zM379 298h4v1h-4zM390 298h1v1h-1zM392 298h1v1h-1zM137 299h3v1h-3zM211 299h2v1h-2zM221 299h2v1h-2zM224 299h1v1h-1zM255 299h3v1h-3zM281 299h1v1h-1zM283 299h1v1h-1zM285 299h1v1h-1zM287 299h1v1h-1zM379 299h3v1h-3zM390 299h8v1h-8zM461 299h1v1h-1zM133 300h4v1h-4zM210 300h3v1h-3zM220 300h3v1h-3zM251 300h3v1h-3zM255 300h1v1h-1zM258 300h1v1h-1zM281 300h1v1h-1zM283 300h1v1h-1zM286 300h1v1h-1zM288 300h1v1h-1zM379 300h4v1h-4zM390 300h3v1h-3zM394 300h1v1h-1zM460 300h3v1h-3zM132 301h4v1h-4zM211 301h1v1h-1zM213 301h4v1h-4zM221 301h1v1h-1zM223 301h4v1h-4zM247 301h4v1h-4zM255 301h1v1h-1zM259 301h2v1h-2zM287 301h1v1h-1zM289 301h1v1h-1zM379 301h1v1h-1zM383 301h2v1h-2zM390 301h2v1h-2zM393 301h1v1h-1zM395 301h1v1h-1zM460 301h2v1h-2zM463 301h2v1h-2zM133 302h1v1h-1zM136 302h1v1h-1zM211 302h1v1h-1zM217 302h5v1h-5zM227 302h4v1h-4zM247 302h3v1h-3zM256 302h1v1h-1zM261 302h1v1h-1zM280 302h4v1h-4zM288 302h1v1h-1zM290 302h1v1h-1zM380 302h1v1h-1zM385 302h1v1h-1zM390 302h2v1h-2zM394 302h1v1h-1zM396 302h1v1h-1zM459 302h5v1h-5zM465 302h1v1h-1zM131 303h11v1h-11zM148 303h3v1h-3zM212 303h1v1h-1zM221 303h2v1h-2zM231 303h2v1h-2zM247 303h1v1h-1zM250 303h3v1h-3zM256 303h1v1h-1zM262 303h1v1h-1zM280 303h2v1h-2zM284 303h3v1h-3zM289 303h1v1h-1zM291 303h1v1h-1zM380 303h1v1h-1zM386 303h1v1h-1zM391 303h1v1h-1zM395 303h1v1h-1zM397 303h1v1h-1zM459 303h8v1h-8zM131 304h2v1h-2zM134 304h3v1h-3zM139 304h1v1h-1zM144 304h4v1h-4zM212 304h1v1h-1zM222 304h1v1h-1zM247 304h6v1h-6zM256 304h1v1h-1zM263 304h2v1h-2zM280 304h1v1h-1zM282 304h1v1h-1zM290 304h1v1h-1zM292 304h1v1h-1zM380 304h1v1h-1zM387 304h2v1h-2zM391 304h1v1h-1zM396 304h1v1h-1zM398 304h1v1h-1zM458 304h5v1h-5zM465 304h2v1h-2zM131 305h1v1h-1zM133 305h3v1h-3zM137 305h2v1h-2zM140 305h2v1h-2zM144 305h3v1h-3zM213 305h2v1h-2zM223 305h1v1h-1zM235 305h2v1h-2zM246 305h3v1h-3zM253 305h1v1h-1zM265 305h1v1h-1zM280 305h1v1h-1zM283 305h1v1h-1zM389 305h1v1h-1zM391 305h1v1h-1zM397 305h1v1h-1zM399 305h1v1h-1zM447 305h1v1h-1zM459 305h2v1h-2zM462 305h1v1h-1zM131 306h1v1h-1zM134 306h3v1h-3zM139 306h1v1h-1zM142 306h1v1h-1zM144 306h1v1h-1zM147 306h1v1h-1zM212 306h2v1h-2zM233 306h2v1h-2zM246 306h1v1h-1zM248 306h2v1h-2zM254 306h1v1h-1zM280 306h1v1h-1zM284 306h1v1h-1zM398 306h1v1h-1zM447 306h3v1h-3zM458 306h2v1h-2zM462 306h1v1h-1zM132 307h1v1h-1zM136 307h1v1h-1zM140 307h1v1h-1zM143 307h2v1h-2zM148 307h2v1h-2zM210 307h2v1h-2zM231 307h2v1h-2zM247 307h2v1h-2zM250 307h2v1h-2zM255 307h9v1h-9zM280 307h1v1h-1zM284 307h1v1h-1zM399 307h1v1h-1zM437 307h2v1h-2zM446 307h1v1h-1zM448 307h4v1h-4zM459 307h1v1h-1zM462 307h2v1h-2zM132 308h1v1h-1zM136 308h2v1h-2zM141 308h1v1h-1zM145 308h1v1h-1zM150 308h1v1h-1zM209 308h3v1h-3zM232 308h4v1h-4zM247 308h1v1h-1zM252 308h2v1h-2zM257 308h2v1h-2zM280 308h1v1h-1zM285 308h1v1h-1zM400 308h1v1h-1zM423 308h9v1h-9zM437 308h1v1h-1zM439 308h3v1h-3zM446 308h1v1h-1zM448 308h2v1h-2zM452 308h3v1h-3zM459 308h1v1h-1zM463 308h1v1h-1zM132 309h1v1h-1zM136 309h1v1h-1zM138 309h2v1h-2zM142 309h1v1h-1zM145 309h1v1h-1zM151 309h1v1h-1zM168 309h7v1h-7zM210 309h1v1h-1zM212 309h4v1h-4zM232 309h1v1h-1zM236 309h3v1h-3zM247 309h1v1h-1zM254 309h2v1h-2zM257 309h1v1h-1zM259 309h1v1h-1zM278 309h7v1h-7zM286 309h1v1h-1zM423 309h5v1h-5zM436 309h1v1h-1zM438 309h1v1h-1zM442 309h2v1h-2zM446 309h1v1h-1zM448 309h2v1h-2zM463 309h2v1h-2zM136 310h1v1h-1zM140 310h1v1h-1zM143 310h3v1h-3zM152 310h2v1h-2zM168 310h2v1h-2zM210 310h1v1h-1zM216 310h4v1h-4zM233 310h1v1h-1zM239 310h3v1h-3zM248 310h1v1h-1zM256 310h2v1h-2zM260 310h1v1h-1zM278 310h2v1h-2zM287 310h1v1h-1zM423 310h1v1h-1zM425 310h1v1h-1zM427 310h1v1h-1zM436 310h1v1h-1zM438 310h2v1h-2zM445 310h1v1h-1zM448 310h3v1h-3zM463 310h2v1h-2zM136 311h1v1h-1zM141 311h1v1h-1zM145 311h1v1h-1zM154 311h1v1h-1zM168 311h1v1h-1zM170 311h1v1h-1zM211 311h1v1h-1zM220 311h2v1h-2zM233 311h1v1h-1zM242 311h2v1h-2zM248 311h1v1h-1zM258 311h1v1h-1zM261 311h2v1h-2zM278 311h1v1h-1zM280 311h1v1h-1zM288 311h1v1h-1zM423 311h1v1h-1zM425 311h2v1h-2zM428 311h1v1h-1zM436 311h1v1h-1zM438 311h5v1h-5zM445 311h1v1h-1zM447 311h1v1h-1zM449 311h1v1h-1zM451 311h1v1h-1zM463 311h1v1h-1zM465 311h1v1h-1zM136 312h1v1h-1zM142 312h1v1h-1zM146 312h1v1h-1zM168 312h1v1h-1zM171 312h1v1h-1zM211 312h1v1h-1zM234 312h1v1h-1zM258 312h1v1h-1zM263 312h1v1h-1zM278 312h1v1h-1zM281 312h1v1h-1zM423 312h1v1h-1zM425 312h1v1h-1zM427 312h1v1h-1zM429 312h1v1h-1zM435 312h1v1h-1zM438 312h2v1h-2zM443 312h2v1h-2zM447 312h1v1h-1zM450 312h1v1h-1zM452 312h1v1h-1zM463 312h2v1h-2zM136 313h1v1h-1zM143 313h2v1h-2zM168 313h1v1h-1zM172 313h1v1h-1zM212 313h1v1h-1zM258 313h1v1h-1zM264 313h1v1h-1zM278 313h1v1h-1zM282 313h1v1h-1zM423 313h1v1h-1zM425 313h1v1h-1zM428 313h1v1h-1zM430 313h1v1h-1zM435 313h1v1h-1zM438 313h1v1h-1zM440 313h1v1h-1zM447 313h1v1h-1zM450 313h1v1h-1zM452 313h1v1h-1zM464 313h1v1h-1zM145 314h1v1h-1zM168 314h1v1h-1zM173 314h1v1h-1zM248 314h3v1h-3zM265 314h1v1h-1zM278 314h1v1h-1zM283 314h1v1h-1zM423 314h1v1h-1zM425 314h1v1h-1zM429 314h1v1h-1zM431 314h1v1h-1zM437 314h1v1h-1zM440 314h1v1h-1zM450 314h1v1h-1zM453 314h1v1h-1zM464 314h1v1h-1zM146 315h1v1h-1zM168 315h1v1h-1zM174 315h1v1h-1zM244 315h4v1h-4zM266 315h1v1h-1zM278 315h1v1h-1zM284 315h1v1h-1zM430 315h1v1h-1zM432 315h1v1h-1zM437 315h1v1h-1zM441 315h1v1h-1zM451 315h1v1h-1zM454 315h1v1h-1zM464 315h1v1h-1zM175 316h1v1h-1zM244 316h3v1h-3zM285 316h1v1h-1zM400 316h7v1h-7zM431 316h1v1h-1zM433 316h1v1h-1zM437 316h1v1h-1zM441 316h2v1h-2zM451 316h1v1h-1zM176 317h1v1h-1zM238 317h2v1h-2zM245 317h1v1h-1zM247 317h2v1h-2zM286 317h1v1h-1zM400 317h2v1h-2zM432 317h1v1h-1zM442 317h1v1h-1zM451 317h1v1h-1zM177 318h1v1h-1zM235 318h3v1h-3zM245 318h1v1h-1zM249 318h2v1h-2zM287 318h1v1h-1zM400 318h1v1h-1zM402 318h2v1h-2zM433 318h1v1h-1zM442 318h2v1h-2zM452 318h1v1h-1zM233 319h2v1h-2zM245 319h1v1h-1zM251 319h1v1h-1zM400 319h1v1h-1zM404 319h1v1h-1zM443 319h1v1h-1zM452 319h1v1h-1zM233 320h1v1h-1zM235 320h2v1h-2zM246 320h1v1h-1zM252 320h2v1h-2zM401 320h1v1h-1zM405 320h1v1h-1zM411 320h7v1h-7zM443 320h2v1h-2zM453 320h1v1h-1zM234 321h1v1h-1zM237 321h2v1h-2zM246 321h1v1h-1zM254 321h2v1h-2zM401 321h1v1h-1zM406 321h1v1h-1zM411 321h2v1h-2zM444 321h1v1h-1zM453 321h1v1h-1zM234 322h1v1h-1zM239 322h2v1h-2zM256 322h1v1h-1zM401 322h1v1h-1zM407 322h2v1h-2zM411 322h1v1h-1zM413 322h2v1h-2zM234 323h1v1h-1zM241 323h2v1h-2zM409 323h1v1h-1zM411 323h1v1h-1zM415 323h1v1h-1zM235 324h1v1h-1zM243 324h2v1h-2zM410 324h1v1h-1zM412 324h1v1h-1zM416 324h1v1h-1zM235 325h1v1h-1zM412 325h1v1h-1zM417 325h1v1h-1zM412 326h1v1h-1zM418 326h2v1h-2zM420 327h1v1h-1zM421 328h1v1h-1z" fill="#ffff00"/>
<text x="88.0 96.0 104.0 112.0" y="23" class="by">8912</text>
<text x="272.0 280.0 285.5 296.0 304.0 312.0" y="23" class="by">7<tspan class="z">0</tspan>.43S</text>
<text x="336.0 344.0 352.0 357.5 368.0 376.0 384.0" y="23" class="by">134.15E</text>
<text x="408.0 416.0 424.0 432.0 440.0" y="23" class="by">2651M</text>
<text x="72.0 80.0 88.0 96.0 104.0 112.0 120.0 128.0 136.0 144.0 152.0 160.0 168.0 176.0 184.0 192.0 200.0 208.0 216.0 224.0 232.0 240.0 248.0 256.0 264.0 272.0 280.0 288.0 296.0 304.0 312.0 320.0 328.0 336.0 344.0 352.0 360.0 368.0 376.0 384.0 392.0 400.0 408.0 416.0 424.0" y="36 36 36 36 36 36 36 36 36 36 36 36 36 36 36 36 36 36 36 36 36 36 37.3 36 36 36 36 36 36 36 36 36 36 36 36 36 36 36 36 36 36 36 36 36 36" class="by">17 Feb 2<tspan class="z">0</tspan>15/12<tspan class="z">0</tspan><tspan class="z">0</tspan><tspan class="z">0</tspan><tspan class="z">0</tspan>UTC <tspan class="d">-</tspan> 2<tspan class="z">0</tspan> Feb 2<tspan class="z">0</tspan>15/<tspan class="z">0</tspan><tspan class="z">0</tspan><tspan class="z">0</tspan><tspan class="z">0</tspan><tspan class="z">0</tspan><tspan class="z">0</tspan>UTC</text>
<text x="64.0 72.0" y="448" class="by"><tspan class="z">0</tspan>6</text>
<text x="103.0 111.0" y="448" class="by">12</text>
<text x="142.0 150.0" y="448" class="by">18</text>
<text x="181.0 189.0" y="448" class="by"><tspan class="z">0</tspan><tspan class="z">0</tspan></text>
<text x="220.0 228.0" y="448" class="by"><tspan class="z">0</tspan>6</text>
<text x="260.0 268.0" y="448" class="by">12</text>
<text x="299.0 307.0" y="448" class="by">18</text>
<text x="338.0 346.0" y="448" class="by"><tspan class="z">0</tspan><tspan class="z">0</tspan></text>
<text x="377.0 385.0" y="448" class="by"><tspan class="z">0</tspan>6</text>
<text x="416.0 424.0" y="448" class="by">12</text>
<text x="456.0 464.0" y="448" class="by">18</text>
<text x="495.0 503.0" y="448" class="by"><tspan class="z">0</tspan><tspan class="z">0</tspan></text>
<text x="533.0 541.0" y="448" class="by"><tspan class="z">0</tspan>6</text>
<text x="165.0 173.0 181.0 189.0 197.0 205.0" y="461" class="by">18 Feb</text>
<text x="322.0 330.0 338.0 346.0 354.0 362.0" y="461" class="by">19 Feb</text>
<text x="479.0 487.0 495.0 503.0 511.0 519.0" y="461" class="by">2<tspan class="z">0</tspan> Feb</text>
<text x="19.0" y="479" class="by">2</text>
<text x="556.5 562.5 568.5 572.5 580.5" y="70.8 70 70 70 70" class="sr"><tspan class="d">-</tspan>25.<tspan class="z">0</tspan></text>
<text x="556.5 562.5 568.5 572.5 580.5" y="94.8 94 94 94 94" class="sr"><tspan class="d">-</tspan>3<tspan class="z">0</tspan>.<tspan class="z">0</tspan></text>
<text x="556.5 562.5 568.5 572.5 580.5" y="118.8 118 118 118 118" class="sr"><tspan class="d">-</tspan>35.<tspan class="z">0</tspan></text>
<text x="556.5 562.5 568.5 572.5 580.5" y="142.8 142 142 142 142" class="sr"><tspan class="d">-</tspan>4<tspan class="z">0</tspan>.<tspan class="z">0</tspan></text>
<text x="556.5 562.5 568.5 572.5 580.5" y="156" class="sr">699.<tspan class="z">0</tspan></text>
<text x="556.5 562.5 568.5 572.5 580.5" y="170" class="sr">698.<tspan class="z">0</tspan></text>
<text x="556.5 562.5 568.5 572.5 580.5" y="184" class="sr">697.<tspan class="z">0</tspan></text>
<text x="556.5 562.5 568.5 572.5 580.5" y="198" class="sr">696.<tspan class="z">0</tspan></text>
<text x="556.5 562.5 568.5 572.5 580.5" y="212" class="sr">695.<tspan class="z">0</tspan></text>
<text x="556.5 562.5 568.5 572.5 580.5" y="226" class="sr">694.<tspan class="z">0</tspan></text>
<text x="556.5 562.5 568.5 572.5 580.5" y="239" class="sr">693.<tspan class="z">0</tspan></text>
<text x="568.5 572.5 580.5" y="256" class="sr">9.<tspan class="z">0</tspan></text>
<text x="568.5 572.5 580.5" y="272" class="sr">8.<tspan class="z">0</tspan></text>
<text x="568.5 572.5 580.5" y="288" class="sr">7.<tspan class="z">0</tspan></text>
<text x="568.5 572.5 580.5" y="304" class="sr">6.<tspan class="z">0</tspan></text>
<text x="568.5 572.5 580.5" y="320" class="sr">5.<tspan class="z">0</tspan></text>
<text x="568.5 572.5 580.5" y="336" class="sr">4.<tspan class="z">0</tspan></text>
<text x="591.5 597.5 603.5 609.5" y="93" class="sr">T(C)</text>
<text x="591.5 597.5 603.5 609.5 615.5 621.5 627.5 633.5" y="190" class="sr">Pre (mb)</text>
<text x="591.5 597.5 603.5 609.5 615.5 621.5 627.5 633.5" y="287" class="sr">SPD(MPS)</text>
</svg>
</body></html>
